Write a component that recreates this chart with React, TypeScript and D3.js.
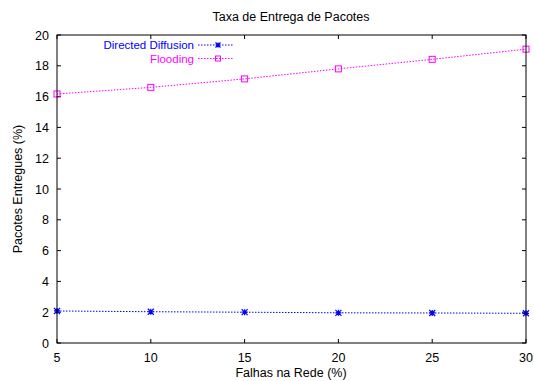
import React, { useRef, useEffect } from 'react';
import * as d3 from 'd3';

const falhas = [5, 10, 15, 20, 25, 30];
const directedDiffusion = [2.08, 2.03, 2.0, 1.96, 1.95, 1.93];
const flooding = [16.17, 16.6, 17.15, 17.8, 18.42, 19.08];
const xTicks = [5, 10, 15, 20, 25, 30];
const yTicks = [0, 2, 4, 6, 8, 10, 12, 14, 16, 18, 20];

const series = [
  { name: 'Directed Diffusion', values: directedDiffusion, color: '#0000ff', marker: 'star' },
  { name: 'Flooding', values: flooding, color: '#ff00ff', marker: 'box' },
];

const App: React.FC = () => {
  const ref = useRef<SVGSVGElement | null>(null);

  useEffect(() => {
    if (!ref.current) return;
    const svg = d3.select(ref.current);
    svg.selectAll('*').remove();

    const width = 534;
    const height = 381;
    const marginLeft = 57;
    const marginRight = 8;
    const marginTop = 35;
    const marginBottom = 38;
    const font = 'Liberation Sans, Arial, sans-serif';
    const fs = 12.5;

    const x = d3.scaleLinear().domain([5, 30]).range([marginLeft, width - marginRight]);
    const y = d3.scaleLinear().domain([0, 20]).range([height - marginBottom, marginTop]);

    svg.attr('width', width).attr('height', height)
      .style('position', 'absolute').style('left', 0).style('top', 0)
      .style('background', '#fff')
      .attr('font-family', font);

    // ticks (gnuplot style, inward, mirrored)
    const g = svg.append('g').attr('stroke', '#000').attr('stroke-width', 1);
    const tl = 4;
    xTicks.forEach(t => {
      g.append('line').attr('x1', x(t)).attr('x2', x(t))
        .attr('y1', y(0)).attr('y2', y(0) - tl);
      g.append('line').attr('x1', x(t)).attr('x2', x(t))
        .attr('y1', y(20)).attr('y2', y(20) + tl);
    });
    yTicks.forEach(t => {
      g.append('line').attr('x1', x(5)).attr('x2', x(5) + tl)
        .attr('y1', y(t)).attr('y2', y(t));
      g.append('line').attr('x1', x(30)).attr('x2', x(30) - tl)
        .attr('y1', y(t)).attr('y2', y(t));
    });

    svg.append('g').selectAll('text').data(xTicks).join('text')
      .attr('x', d => x(d)).attr('y', y(0) + 19)
      .attr('text-anchor', 'middle').attr('font-size', fs)
      .text(d => d);
    svg.append('g').selectAll('text').data(yTicks).join('text')
      .attr('x', marginLeft - 8).attr('y', d => y(d) + 4.5)
      .attr('text-anchor', 'end').attr('font-size', fs)
      .text(d => d);

    svg.append('text').attr('x', 291).attr('y', 21)
      .attr('text-anchor', 'middle').attr('font-size', fs).text('Taxa de Entrega de Pacotes');
    svg.append('text').attr('x', 291).attr('y', 377)
      .attr('text-anchor', 'middle').attr('font-size', fs).text('Falhas na Rede (%)');
    svg.append('text')
      .attr('transform', `translate(22,${(marginTop + height - marginBottom) / 2}) rotate(-90)`)
      .attr('text-anchor', 'middle').attr('font-size', fs).text('Pacotes Entregues (%)');

    const drawMarker = (sel: any, cx: number, cy: number, kind: string, color: string, s: number) => {
      if (kind === 'box') {
        sel.append('rect').attr('x', cx - s).attr('y', cy - s).attr('width', 2 * s).attr('height', 2 * s)
          .attr('fill', 'none').attr('stroke', color).attr('stroke-width', 1);
      } else {
        sel.append('path')
          .attr('d', `M${cx - s},${cy}H${cx + s}M${cx},${cy - s}V${cy + s}M${cx - s},${cy - s}L${cx + s},${cy + s}M${cx - s},${cy + s}L${cx + s},${cy - s}`)
          .attr('stroke', color).attr('stroke-width', 1.2);
      }
    };

    const line = d3.line<number>().x((_, i) => x(falhas[i])).y(d => y(d));

    series.forEach((s, si) => {
      const sg = svg.append('g');
      sg.append('path').attr('d', line(s.values)).attr('fill', 'none')
        .attr('stroke', s.color).attr('stroke-width', 1).attr('stroke-dasharray', '1.5,1.5');
      s.values.forEach((v, i) => drawMarker(sg, x(falhas[i]), y(v), s.marker, s.color, 3));

      const ly = 45 + si * 13.5;
      sg.append('text').attr('x', 194).attr('y', ly + 4).attr('text-anchor', 'end')
        .attr('font-size', 11.5).attr('fill', s.color).text(s.name);
      sg.append('line').attr('x1', 198).attr('x2', 234).attr('y1', ly).attr('y2', ly)
        .attr('stroke', s.color).attr('stroke-width', 1).attr('stroke-dasharray', '1.5,1.5');
      drawMarker(sg, 218, ly, s.marker, s.color, 2.5);
    });

    // frame
    svg.append('rect').attr('x', x(5)).attr('y', y(20))
      .attr('width', x(30) - x(5)).attr('height', y(0) - y(20))
      .attr('fill', 'none').attr('stroke', '#000').attr('stroke-width', 1);
  }, []);

  return <svg ref={ref} />;
};

export default App;
